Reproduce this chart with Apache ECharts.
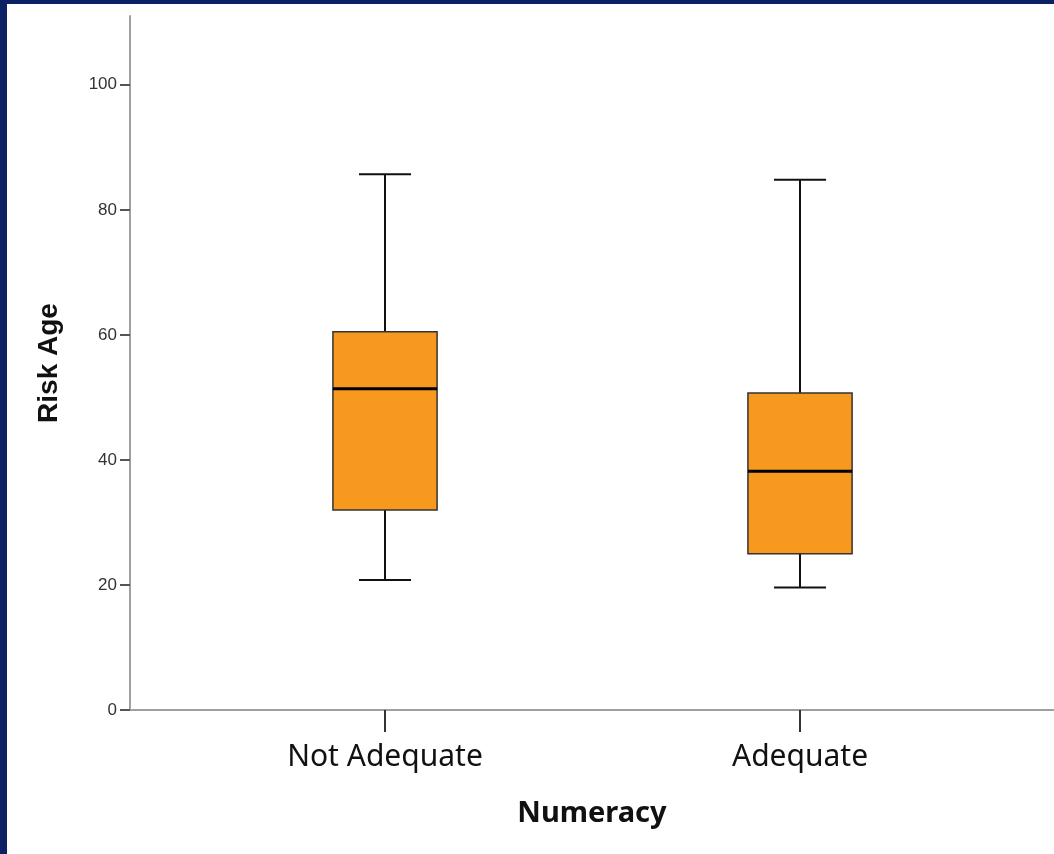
<!DOCTYPE html>
<html><head><meta charset="utf-8">
<script src="https://cdn.jsdelivr.net/npm/echarts@6/dist/echarts.min.js"></script>
<style>
html,body{margin:0;padding:0;background:#0b2163;width:1054px;height:854px;overflow:hidden}
#frame{position:absolute;left:7px;top:4px;width:1047px;height:850px;background:#fff}
#chart{width:1047px;height:850px}
</style></head><body><div id="frame"><div id="chart"></div></div>
<script>
const categories = ['Not Adequate', 'Adequate'];
const whiskerLow = [20.8, 19.6];
const q1 = [32.0, 25.0];
const median = [51.4, 38.2];
const q3 = [60.5, 50.7];
const whiskerHigh = [85.7, 84.8];
const yTicks = [0, 20, 40, 60, 80, 100];

const boxData = categories.map((c, i) => [i, whiskerLow[i], q1[i], median[i], q3[i], whiskerHigh[i]]);
const catPositions = categories.map((c, i) => i);

const chart = echarts.init(document.getElementById('chart'), null, {renderer: 'canvas'});
chart.setOption({
  animation: false,
  backgroundColor: '#ffffff',
  grid: {left: 123, right: 0, top: 12, bottom: 144},
  xAxis: {
    type: 'value',
    min: -0.6145,
    max: 1.612,
    name: 'Numeracy',
    nameLocation: 'middle',
    nameGap: 89,
    nameTextStyle: {fontFamily: 'Noto Sans', fontWeight: 'bold', fontSize: 29, color: '#111'},
    axisLine: {show: true, onZero: false, lineStyle: {color: '#a0a0a0', width: 2}},
    axisTick: {show: true, customValues: catPositions, length: 22, lineStyle: {color: '#333', width: 2}},
    axisLabel: {customValues: catPositions, margin: 32, fontFamily: 'Noto Sans', fontSize: 30, color: '#111',
      formatter: v => categories[Math.round(v)]},
    splitLine: {show: false}
  },
  yAxis: {
    type: 'value',
    min: 0,
    max: 111,
    interval: 20,
    name: 'Risk Age',
    nameLocation: 'middle',
    nameGap: 67,
    nameTextStyle: {fontFamily: 'Liberation Sans', fontWeight: 'bold', fontSize: 28, color: '#111'},
    axisLine: {show: true, onZero: false, lineStyle: {color: '#a0a0a0', width: 2}},
    axisTick: {show: true, customValues: yTicks, length: 10, lineStyle: {color: '#555', width: 2}},
    axisLabel: {customValues: yTicks, margin: 13, fontFamily: 'Liberation Sans', fontSize: 17, color: '#333'},
    splitLine: {show: false}
  },
  series: [{
    type: 'custom',
    data: boxData,
    encode: {x: 0, y: [1, 2, 3, 4, 5]},
    renderItem: function (params, api) {
      const x = api.value(0);
      const lo = api.coord([x, api.value(1)]);
      const b1 = api.coord([x, api.value(2)]);
      const md = api.coord([x, api.value(3)]);
      const b3 = api.coord([x, api.value(4)]);
      const hi = api.coord([x, api.value(5)]);
      const bw = api.size([0.251, 0])[0];
      const cx = lo[0];
      const ws = {stroke: '#111', lineWidth: 2};
      return {
        type: 'group',
        children: [
          {type: 'line', shape: {x1: cx, y1: hi[1], x2: cx, y2: b3[1]}, style: ws},
          {type: 'line', shape: {x1: cx, y1: lo[1], x2: cx, y2: b1[1]}, style: ws},
          {type: 'line', shape: {x1: cx - bw / 4, y1: hi[1], x2: cx + bw / 4, y2: hi[1]}, style: ws},
          {type: 'line', shape: {x1: cx - bw / 4, y1: lo[1], x2: cx + bw / 4, y2: lo[1]}, style: ws},
          {type: 'rect', shape: {x: cx - bw / 2, y: b3[1], width: bw, height: b1[1] - b3[1]},
            style: {fill: '#F7991F', stroke: '#333', lineWidth: 1.5}},
          {type: 'line', shape: {x1: cx - bw / 2, y1: md[1], x2: cx + bw / 2, y2: md[1]},
            style: {stroke: '#000', lineWidth: 3}}
        ]
      };
    }
  }]
});
</script></body></html>
